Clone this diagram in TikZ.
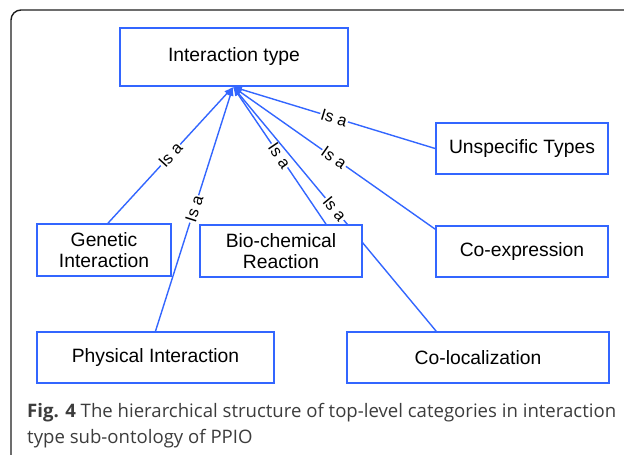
\documentclass[tikz,border=0pt]{standalone}
\usepackage{fontspec}
\setmainfont{Liberation Sans}
\newfontfamily\capfont{Open Sans}
\usetikzlibrary{arrows.meta}
\definecolor{boxblue}{RGB}{51,102,255}
\definecolor{framegray}{RGB}{30,30,30}
\definecolor{captext}{RGB}{60,60,60}
\pgfdeclarelayer{bg}
\pgfsetlayers{bg,main}
\newlength\capw
\begin{document}
\settowidth\capw{\capfont\fontsize{10}{12}\selectfont\textbf{Fig. 4} The hierarchical structure of top-level categories in interaction}
\pgfmathsetmacro\capsize{10*589/\capw}
\begin{tikzpicture}[x=1pt,y=-1pt,
  box/.style={draw=boxblue, line width=1.7pt, fill=white, align=center,
    font=\fontsize{19.3}{21.5}\selectfont, inner sep=0pt},
  isa/.style={draw=boxblue, line width=1.4pt, -{Latex[length=9pt,width=7pt]}},
  lbl/.style={fill=white, inner sep=1pt, sloped, font=\fontsize{16.5}{18}\selectfont}]
\useasboundingbox (0,0) rectangle (624,455);
\begin{scope}
\clip (0,0) rectangle (624,455);
\draw[framegray, line width=1.4pt, rounded corners=10pt] (11,10) rectangle (650,475);
\end{scope}
\node[box, minimum width=228, minimum height=58] (it) at (234,57) {Interaction type};
\node[box, minimum width=172, minimum height=51] (unsp) at (522,148.5) {Unspecific Types};
\node[box, minimum width=134, minimum height=52] (gen) at (104,250) {Genetic\\Interaction};
\node[box, minimum width=162, minimum height=52] (bio) at (281,251) {Bio-chemical\\Reaction};
\node[box, minimum width=172, minimum height=51] (coexp) at (522,251.5) {Co-expression};
\node[box, minimum width=237, minimum height=51] (phys) at (155.5,357.5) {Physical Interaction};
\node[box, minimum width=262, minimum height=51] (coloc) at (478,357.5) {Co-localization};
\coordinate (apex) at ([xshift=-1]it.south);
\begin{pgfonlayer}{bg}
\draw[isa] ([xshift=4]gen.north) -- node[lbl]{Is a} (apex);
\draw[isa] (phys.north) -- node[lbl]{Is a} (apex);
\draw[isa] ([xshift=45]bio.north) -- node[lbl]{Is a} (apex);
\draw[isa] ([xshift=90]coloc.north west) -- node[lbl]{Is a} (apex);
\draw[isa] ([yshift=-4]coexp.north west) -- node[lbl]{Is a} (apex);
\draw[isa] (unsp.west) -- node[lbl]{Is a} (apex);
\end{pgfonlayer}
\node[anchor=base west, inner sep=0pt, text=captext, font=\capfont\fontsize{\capsize}{\capsize}\selectfont] (cap1) at (27,417)
  {\textbf{Fig. 4} The hierarchical structure of top-level categories in interaction};
\node[anchor=base west, inner sep=0pt, text=captext, font=\capfont\fontsize{\capsize}{\capsize}\selectfont] (cap2) at (27,443)
  {type sub-ontology of PPIO};
\end{tikzpicture}
\end{document}
